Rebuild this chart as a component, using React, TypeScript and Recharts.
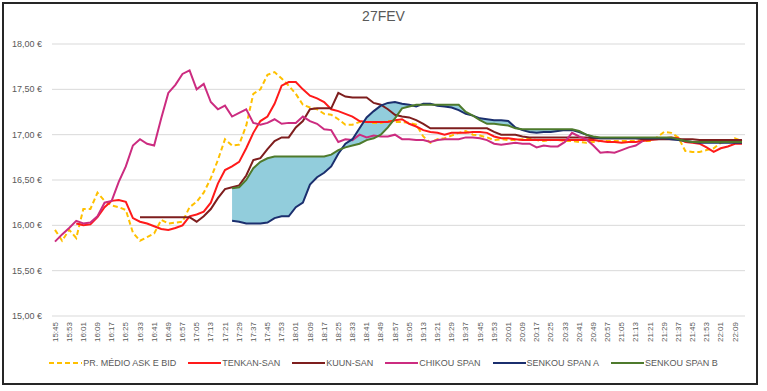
import React from 'react';
import { ComposedChart, Line, Area, XAxis, YAxis, CartesianGrid, Legend } from 'recharts';

const times = [
  '15:45','15:49','15:53','15:57','16:01','16:05','16:09','16:13','16:17','16:21','16:25','16:29','16:33','16:37','16:41','16:45','16:49','16:53','16:57',
  '17:01','17:05','17:09','17:13','17:17','17:21','17:25','17:29','17:33','17:37','17:41','17:45','17:49','17:53','17:57',
  '18:01','18:05','18:09','18:13','18:17','18:21','18:25','18:29','18:33','18:37','18:41','18:45','18:49','18:53','18:57',
  '19:01','19:05','19:09','19:13','19:17','19:21','19:25','19:29','19:33','19:37','19:41','19:45','19:49','19:53','19:57',
  '20:01','20:05','20:09','20:13','20:17','20:21','20:25','20:29','20:33','20:37','20:41','20:45','20:49','20:53','20:57',
  '21:01','21:05','21:09','21:13','21:17','21:21','21:25','21:29','21:33','21:37','21:41','21:45','21:49','21:53','21:57',
  '22:01','22:05','22:09','22:13'
];

const tickLabels = [
  '15:45','15:53','16:01','16:09','16:17','16:25','16:33','16:41','16:49','16:57','17:05','17:13','17:21','17:29','17:37','17:45','17:53',
  '18:01','18:09','18:17','18:25','18:33','18:41','18:49','18:57','19:05','19:13','19:21','19:29','19:37','19:45','19:53',
  '20:01','20:09','20:17','20:25','20:33','20:41','20:49','20:57','21:05','21:13','21:21','21:29','21:37','21:45','21:53','22:01','22:09'
];

const yTicks = [15, 15.5, 16, 16.5, 17, 17.5, 18];

const precoMedio = [
  15.95,15.83,15.95,15.86,16.18,16.18,16.36,16.27,16.22,16.20,16.17,15.92,15.83,15.87,15.91,16.06,16.02,16.03,16.04,16.20,
  16.26,16.36,16.52,16.72,16.95,16.88,16.89,17.10,17.45,17.50,17.66,17.69,17.62,17.54,17.45,17.33,17.30,17.28,17.23,17.22,
  17.17,17.11,17.11,17.14,17.14,17.13,17.13,17.15,17.14,17.14,17.13,17.11,16.98,16.91,16.95,16.96,16.99,17.02,17.04,17.00,
  16.99,16.97,16.94,16.95,16.94,16.94,16.95,16.96,16.94,16.93,16.94,16.94,16.93,16.93,16.92,16.91,16.92,16.93,16.93,16.93,
  16.93,16.93,16.93,16.93,16.93,16.97,17.03,17.02,16.97,16.82,16.81,16.81,16.83,16.85,16.91,16.93,16.96,16.93
];

const tenkan = [
  null,null,null,16.02,16.00,16.01,16.09,16.20,16.27,16.28,16.26,16.08,16.04,16.02,15.99,15.96,15.95,15.97,16.00,16.10,
  16.12,16.15,16.25,16.46,16.61,16.65,16.70,16.85,17.02,17.15,17.20,17.34,17.54,17.58,17.58,17.50,17.43,17.40,17.36,17.28,
  17.26,17.23,17.20,17.15,17.14,17.14,17.14,17.14,17.16,17.17,17.12,17.09,17.05,17.03,17.02,17.00,17.02,17.02,17.02,17.03,
  17.03,17.02,16.98,16.96,16.96,16.95,16.94,16.94,16.94,16.94,16.94,16.94,16.94,16.94,16.94,16.94,16.94,16.93,16.92,16.92,
  16.91,16.92,16.92,16.93,16.94,16.95,16.96,16.97,16.96,16.92,16.91,16.90,16.86,16.81,16.85,16.87,16.90,16.90
];

const kijun = [
  null,null,null,null,null,null,null,null,null,null,null,null,16.09,16.09,16.09,16.09,16.09,16.09,16.09,16.09,
  16.04,16.10,16.18,16.30,16.40,16.42,16.44,16.55,16.72,16.74,16.84,16.93,16.97,16.97,17.08,17.15,17.28,17.29,17.29,17.29,
  17.46,17.42,17.41,17.41,17.41,17.35,17.33,17.28,17.22,17.20,17.19,17.16,17.12,17.07,17.07,17.07,17.07,17.07,17.07,17.07,
  17.07,17.07,17.03,17.00,17.00,17.00,16.98,16.97,16.97,16.97,16.97,16.97,16.97,16.97,16.97,16.97,16.96,16.96,16.96,16.96,
  16.96,16.96,16.96,16.95,16.95,16.95,16.95,16.95,16.95,16.95,16.95,16.94,16.94,16.94,16.94,16.94,16.94,16.94
];

const chikou = [
  15.82,15.90,15.97,16.05,16.02,16.03,16.10,16.25,16.27,16.48,16.65,16.88,16.95,16.90,16.88,17.18,17.46,17.55,17.67,17.71,
  17.50,17.56,17.36,17.28,17.32,17.20,17.24,17.28,17.13,17.11,17.13,17.17,17.12,17.13,17.13,17.20,17.15,17.12,17.06,17.05,
  16.92,16.95,16.94,17.00,16.97,16.99,16.98,16.98,17.00,16.95,16.95,16.94,16.94,16.92,16.94,16.95,16.95,16.95,16.97,16.97,
  16.96,16.94,16.90,16.89,16.90,16.91,16.90,16.90,16.86,16.88,16.87,16.87,16.92,17.02,16.98,16.95,16.88,16.80,16.81,16.80,
  16.83,16.86,16.88,16.93,null,null,null,null,null,null,null,null,null,null,null,null,null,null
];

const senkouA = [
  null,null,null,null,null,null,null,null,null,null,null,null,null,null,null,null,null,null,null,null,
  null,null,null,null,null,16.05,16.04,16.02,16.02,16.02,16.03,16.08,16.10,16.10,16.20,16.25,16.45,16.53,16.58,16.65,
  16.79,16.90,16.95,17.07,17.19,17.26,17.32,17.35,17.36,17.34,17.33,17.31,17.34,17.34,17.32,17.31,17.30,17.27,17.23,17.21,
  17.18,17.17,17.16,17.16,17.15,17.08,17.05,17.03,17.02,17.03,17.03,17.04,17.05,17.05,17.03,17.00,16.97,16.96,16.96,16.96,
  16.96,16.96,16.96,16.96,16.96,16.96,16.96,16.95,16.94,16.93,16.92,16.91,16.91,16.91,16.91,16.91,16.91,16.91
];

const senkouB = [
  null,null,null,null,null,null,null,null,null,null,null,null,null,null,null,null,null,null,null,null,
  null,null,null,null,null,16.41,16.42,16.50,16.63,16.70,16.74,16.76,16.76,16.76,16.76,16.76,16.76,16.76,16.76,16.78,
  16.83,16.86,16.88,16.90,16.94,16.96,17.00,17.08,17.18,17.29,17.31,17.33,17.33,17.33,17.33,17.33,17.33,17.33,17.25,17.21,
  17.16,17.12,17.12,17.11,17.10,17.07,17.06,17.06,17.06,17.06,17.06,17.06,17.06,17.06,17.04,17.00,16.98,16.97,16.97,16.97,
  16.97,16.97,16.97,16.97,16.97,16.97,16.97,16.97,16.95,16.93,16.92,16.92,16.92,16.92,16.92,16.92,16.92,16.92
];

const series = [
  { key: 'preco', name: 'PR. MÉDIO ASK E BID', color: '#FFC000', dash: '5 3' },
  { key: 'tenkan', name: 'TENKAN-SAN', color: '#FF1A1A', dash: undefined },
  { key: 'kijun', name: 'KUUN-SAN', color: '#7E1E1E', dash: undefined },
  { key: 'chikou', name: 'CHIKOU SPAN', color: '#CC2C80', dash: undefined },
  { key: 'senkouA', name: 'SENKOU SPAN A', color: '#1B2F6E', dash: undefined },
  { key: 'senkouB', name: 'SENKOU SPAN B', color: '#4E7A2C', dash: undefined },
];

const rows = times.map((t, i) => {
  const a = senkouA[i];
  const b = senkouB[i];
  return {
    t,
    preco: precoMedio[i],
    tenkan: tenkan[i],
    kijun: kijun[i],
    chikou: chikou[i],
    senkouA: a,
    senkouB: b,
    cloud: a != null && b != null ? [Math.min(a, b), Math.max(a, b)] : null,
  };
});

const FONT = '"Liberation Sans Narrow", "Liberation Sans", Arial, sans-serif';

const XTick = (props: any) => {
  const { x, y, payload } = props;
  return (
    <text
      x={x}
      y={y}
      transform={`rotate(-90 ${x} ${y})`}
      textAnchor="end"
      dy="0.33em"
      fontSize={8}
      fill="#595959"
      fontFamily={FONT}
    >
      {payload.value}
    </text>
  );
};

const YTick = (props: any) => {
  const { x, y, payload } = props;
  const label = Number(payload.value).toFixed(2).replace('.', ',') + ' €';
  return (
    <text x={x} y={y} textAnchor="end" dy="0.35em" fontSize={9} fill="#595959" fontFamily={FONT}>
      {label}
    </text>
  );
};

const LegendContent = () => (
  <div
    style={{
      display: 'flex',
      justifyContent: 'center',
      alignItems: 'flex-start',
      height: 30,
      boxSizing: 'border-box',
      paddingTop: 2,
      gap: 12,
      fontSize: 9,
      color: '#595959',
      fontFamily: FONT,
    }}
  >
    {series.map((s) => (
      <div key={s.key} style={{ display: 'flex', alignItems: 'center', height: 10 }}>
        <svg width={33} height={6} style={{ marginRight: 1 }}>
          <line x1={0} y1={3} x2={33} y2={3} stroke={s.color} strokeWidth={2} strokeDasharray={s.dash} />
        </svg>
        <span style={{ lineHeight: '10px', whiteSpace: 'nowrap' }}>{s.name}</span>
      </div>
    ))}
  </div>
);

export default function App() {
  return (
    <div style={{ position: 'absolute', left: 0, top: 0, width: 767, height: 391, background: '#fff', overflow: 'hidden' }}>
      <div
        style={{
          position: 'absolute',
          left: 2,
          top: 2,
          width: 752,
          height: 379,
          border: '2px solid #262626',
        }}
      />
      <div
        style={{
          position: 'absolute',
          left: 0,
          top: 8,
          width: 767,
          textAlign: 'center',
          fontSize: 14,
          color: '#595959',
          fontFamily: FONT,
        }}
      >
        27FEV
      </div>
      <div style={{ position: 'absolute', left: 0, top: 0 }}>
        <ComposedChart width={767} height={391} data={rows} margin={{ top: 44, right: 22, bottom: 5, left: 8 }}>
          <CartesianGrid vertical={false} stroke="#D9D9D9" strokeWidth={1} />
          <XAxis
            dataKey="t"
            scale="point"
            padding={{ left: 3, right: 3 }}
            ticks={tickLabels}
            interval={0}
            tick={<XTick />}
            axisLine={false}
            tickLine={false}
            tickSize={0}
            tickMargin={6}
            height={40}
          />
          <YAxis
            domain={[15, 18]}
            ticks={yTicks}
            interval={0}
            allowDataOverflow
            axisLine={false}
            tickLine={false}
            tickSize={0}
            tickMargin={10}
            width={44}
            tick={<YTick />}
          />
          <Legend
            verticalAlign="bottom"
            content={<LegendContent />}
            wrapperStyle={{ left: 0, width: 767 }}
          />
          <Area
            dataKey={(d: any) => d.cloud}
            stroke="none"
            fill="#92CDDC"
            fillOpacity={1}
            isAnimationActive={false}
            legendType="none"
            connectNulls={false}
          />
          {series.map((s) => (
            <Line
              key={s.key}
              dataKey={s.key}
              name={s.name}
              type="linear"
              stroke={s.color}
              strokeWidth={2}
              strokeDasharray={s.dash}
              dot={false}
              activeDot={false}
              isAnimationActive={false}
              connectNulls={false}
            />
          ))}
        </ComposedChart>
      </div>
    </div>
  );
}
